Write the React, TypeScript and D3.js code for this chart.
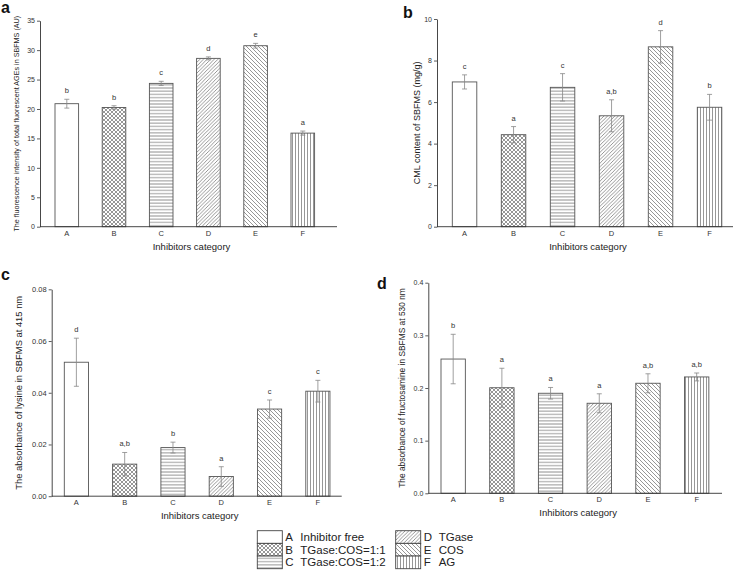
import * as React from 'react'
import { useEffect, useRef } from 'react'
import * as d3 from 'd3'

const categories = ['A', 'B', 'C', 'D', 'E', 'F']
const legendNames = ['Inhibitor free', 'TGase:COS=1:1', 'TGase:COS=1:2', 'TGase', 'COS', 'AG']

// a: fluorescent AGEs
const agesValues = [20.9, 20.25, 24.35, 28.6, 30.75, 15.9]
const agesErrors = [0.75, 0.3, 0.35, 0.25, 0.4, 0.35]
const agesLetters = ['b', 'b', 'c', 'd', 'e', 'a']
const agesTicks = [0, 5, 10, 15, 20, 25, 30, 35]

// b: CML content
const cmlValues = [6.97, 4.43, 6.71, 5.34, 8.66, 5.75]
const cmlErrors = [0.34, 0.39, 0.66, 0.77, 0.78, 0.62]
const cmlLetters = ['c', 'a', 'c', 'a,b', 'd', 'b']
const cmlTicks = [0, 2, 4, 6, 8, 10]

// c: lysine absorbance
const lysineValues = [0.0518, 0.0124, 0.0188, 0.0076, 0.0337, 0.0406]
const lysineErrors = [0.0093, 0.0045, 0.0021, 0.0038, 0.0035, 0.0042]
const lysineLetters = ['d', 'a,b', 'b', 'a', 'c', 'c']
const lysineTicks = [0, 0.02, 0.04, 0.06, 0.08]

// d: fructosamine absorbance
const fructValues = [0.255, 0.2005, 0.19, 0.171, 0.209, 0.221]
const fructErrors = [0.047, 0.037, 0.011, 0.018, 0.018, 0.0075]
const fructLetters = ['b', 'a', 'a', 'a', 'a,b', 'a,b']
const fructTicks = [0, 0.1, 0.2, 0.3, 0.4]

const FONT = '"Liberation Sans", Arial, sans-serif'
const HATCH = '#6a6a6a'

interface Panel {
  tag: string
  tagX: number
  tagY: number
  values: number[]
  errors: number[]
  letters: string[]
  ticks: number[]
  fmt: string
  axisX: number
  axisEnd: number
  yTop: number
  yBottom: number
  barStart: number
  step: number
  yLabel: string
  yLabelX: number
  yLabelSize: number
  tickSize: number
}

const panels: Panel[] = [
  {
    tag: 'a', tagX: 1, tagY: 13,
    values: agesValues, errors: agesErrors, letters: agesLetters, ticks: agesTicks, fmt: 'd',
    axisX: 40, axisEnd: 337, yTop: 20.7, yBottom: 226.7, barStart: 55, step: 47.2,
    yLabel: 'The fluorescence intensity of total fluorescent AGEs in SBFMS (AU)', yLabelX: 19, yLabelSize: 7.2,
    tickSize: 7,
  },
  {
    tag: 'b', tagX: 403, tagY: 18,
    values: cmlValues, errors: cmlErrors, letters: cmlLetters, ticks: cmlTicks, fmt: 'd',
    axisX: 437, axisEnd: 733, yTop: 19, yBottom: 226.7, barStart: 452.3, step: 49,
    yLabel: 'CML content of SBFMS (mg/g)', yLabelX: 420, yLabelSize: 9,
    tickSize: 7,
  },
  {
    tag: 'c', tagX: 1, tagY: 280,
    values: lysineValues, errors: lysineErrors, letters: lysineLetters, ticks: lysineTicks, fmt: '.2f',
    axisX: 51.7, axisEnd: 341.7, yTop: 289.3, yBottom: 496.2, barStart: 64.3, step: 48.3,
    yLabel: 'The absorbance of lysine in SBFMS at 415 nm', yLabelX: 22, yLabelSize: 9.4,
    tickSize: 7.5,
  },
  {
    tag: 'd', tagX: 377, tagY: 289,
    values: fructValues, errors: fructErrors, letters: fructLetters, ticks: fructTicks, fmt: '.1f',
    axisX: 428.3, axisEnd: 722, yTop: 282.7, yBottom: 493.3, barStart: 441, step: 48.7,
    yLabel: 'The absorbance of fructosamine in SBFMS at 530 nm', yLabelX: 405, yLabelSize: 8.4,
    tickSize: 7,
  },
]

function addPatterns(defs: d3.Selection<SVGDefsElement, unknown, null, undefined>) {
  const mk = (id: string, size: number) =>
    defs.append('pattern')
      .attr('id', id)
      .attr('patternUnits', 'userSpaceOnUse')
      .attr('width', size)
      .attr('height', size)

  const line = (p: any, x1: number, y1: number, x2: number, y2: number) =>
    p.append('line')
      .attr('x1', x1).attr('y1', y1).attr('x2', x2).attr('y2', y2)
      .attr('stroke', HATCH).attr('stroke-width', 0.7)

  // B crosshatch
  const b = mk('pat-B', 4)
  b.append('rect').attr('width', 4).attr('height', 4).attr('fill', '#fff')
  line(b, 0, 0, 4, 4)
  line(b, 0, 4, 4, 0)
  // C horizontal
  const c = mk('pat-C', 3.2)
  c.append('rect').attr('width', 3.2).attr('height', 3.2).attr('fill', '#fff')
  line(c, 0, 1.6, 3.2, 1.6)
  // D forward diagonal
  const d = mk('pat-D', 3.6)
  d.append('rect').attr('width', 3.6).attr('height', 3.6).attr('fill', '#fff')
  line(d, -0.9, 0.9, 0.9, -0.9)
  line(d, 0, 3.6, 3.6, 0)
  line(d, 2.7, 4.5, 4.5, 2.7)
  // E back diagonal
  const e = mk('pat-E', 4)
  e.append('rect').attr('width', 4).attr('height', 4).attr('fill', '#fff')
  line(e, -1, 3, 1, 5)
  line(e, 0, 0, 4, 4)
  line(e, 3, -1, 5, 1)
  // F vertical
  const f = mk('pat-F', 3)
  f.append('rect').attr('width', 3).attr('height', 3).attr('fill', '#fff')
  line(f, 1.5, 0, 1.5, 3)
}

const fillFor = (c: string) => (c === 'A' ? '#fff' : `url(#pat-${c})`)

function drawPanel(svg: d3.Selection<SVGSVGElement, unknown, null, undefined>, p: Panel) {
  const g = svg.append('g')
  const y = d3.scaleLinear()
    .domain([p.ticks[0], p.ticks[p.ticks.length - 1]])
    .range([p.yBottom, p.yTop])
  const x = d3.scaleBand<string>()
    .domain(categories)
    .range([p.barStart, p.barStart + p.step * 5.5])
    .paddingInner(0.5)
    .paddingOuter(0)
  const bw = x.bandwidth()

  // bars
  g.selectAll('.bar')
    .data(categories)
    .enter()
    .append('rect')
    .attr('x', (d) => x(d) as number)
    .attr('y', (d, i) => y(p.values[i]))
    .attr('width', bw)
    .attr('height', (d, i) => p.yBottom - y(p.values[i]))
    .attr('fill', (d) => fillFor(d))
    .attr('stroke', '#555')
    .attr('stroke-width', 0.9)

  // error bars
  const eb = g.selectAll('.err')
    .data(categories)
    .enter()
    .append('g')
  eb.append('line')
    .attr('x1', (d) => (x(d) as number) + bw / 2)
    .attr('x2', (d) => (x(d) as number) + bw / 2)
    .attr('y1', (d, i) => y(p.values[i] + p.errors[i]))
    .attr('y2', (d, i) => y(p.values[i] - p.errors[i]))
    .attr('stroke', '#888')
    .attr('stroke-width', 0.8)
  ;[1, -1].forEach((s) => {
    eb.append('line')
      .attr('x1', (d) => (x(d) as number) + bw / 2 - 2.5)
      .attr('x2', (d) => (x(d) as number) + bw / 2 + 2.5)
      .attr('y1', (d, i) => y(p.values[i] + s * p.errors[i]))
      .attr('y2', (d, i) => y(p.values[i] + s * p.errors[i]))
      .attr('stroke', '#888')
      .attr('stroke-width', 0.8)
  })

  // significance letters
  g.selectAll('.sig')
    .data(categories)
    .enter()
    .append('text')
    .attr('x', (d) => (x(d) as number) + bw / 2)
    .attr('y', (d, i) => y(p.values[i] + p.errors[i]) - 6)
    .attr('text-anchor', 'middle')
    .attr('font-family', FONT)
    .attr('font-size', 7.5)
    .attr('fill', '#333')
    .text((d, i) => p.letters[i])

  // y axis
  const yAxis = g.append('g')
    .attr('transform', `translate(${p.axisX},0)`)
    .call(
      d3.axisLeft(y)
        .tickValues(p.ticks)
        .tickSize(3)
        .tickSizeOuter(0)
        .tickPadding(2)
        .tickFormat(d3.format(p.fmt) as any)
    )
  yAxis.select('.domain').attr('stroke', '#333').attr('stroke-width', 0.9)
  yAxis.selectAll('.tick line').attr('stroke', '#333').attr('stroke-width', 0.8)
  yAxis.selectAll('.tick text')
    .attr('font-family', FONT)
    .attr('font-size', p.tickSize)
    .attr('fill', '#333')

  // x axis
  g.append('line')
    .attr('x1', p.axisX).attr('x2', p.axisEnd)
    .attr('y1', p.yBottom).attr('y2', p.yBottom)
    .attr('stroke', '#333').attr('stroke-width', 0.9)
  g.selectAll('.xl')
    .data(categories)
    .enter()
    .append('text')
    .attr('x', (d) => (x(d) as number) + bw / 2)
    .attr('y', p.yBottom + 9)
    .attr('text-anchor', 'middle')
    .attr('font-family', FONT)
    .attr('font-size', 7.5)
    .attr('fill', '#333')
    .text((d) => d)

  g.append('text')
    .attr('x', (p.axisX + p.axisEnd) / 2 + 3)
    .attr('y', p.yBottom + 23)
    .attr('text-anchor', 'middle')
    .attr('font-family', FONT)
    .attr('font-size', 9.5)
    .attr('fill', '#222')
    .text('Inhibitors category')

  g.append('text')
    .attr('transform', `translate(${p.yLabelX},${(p.yTop + p.yBottom) / 2}) rotate(-90)`)
    .attr('text-anchor', 'middle')
    .attr('font-family', FONT)
    .attr('font-size', p.yLabelSize)
    .attr('fill', '#222')
    .text(p.yLabel)

  g.append('text')
    .attr('x', p.tagX)
    .attr('y', p.tagY)
    .attr('font-family', FONT)
    .attr('font-size', 16)
    .attr('font-weight', 'bold')
    .attr('fill', '#111')
    .text(p.tag)
}

function drawLegend(svg: d3.Selection<SVGSVGElement, unknown, null, undefined>) {
  const g = svg.append('g')
  const rows = d3.scaleBand<number>().domain([0, 1, 2]).range([530.7, 568.7])
  const cols = [257.3, 395.7]
  categories.forEach((c, i) => {
    const col = Math.floor(i / 3)
    const row = i % 3
    const sx = cols[col]
    const sy = rows(row) as number
    g.append('rect')
      .attr('x', sx).attr('y', sy)
      .attr('width', 25).attr('height', rows.bandwidth())
      .attr('fill', fillFor(c))
      .attr('stroke', '#444').attr('stroke-width', 0.9)
    g.append('text')
      .attr('x', sx + 28).attr('y', sy + rows.bandwidth() / 2 + 4)
      .attr('font-family', FONT).attr('font-size', 11.5)
      .attr('fill', '#222')
      .text(c)
    g.append('text')
      .attr('x', sx + 43).attr('y', sy + rows.bandwidth() / 2 + 4)
      .attr('font-family', FONT).attr('font-size', 11.5)
      .attr('fill', '#222')
      .text(legendNames[i])
  })
}

const App = () => {
  const ref = useRef<SVGSVGElement | null>(null)

  useEffect(() => {
    const svg = d3.select(ref.current as SVGSVGElement)
    svg.selectAll('*').remove()
    addPatterns(svg.append('defs'))
    panels.forEach((p) => drawPanel(svg, p))
    drawLegend(svg)
  }, [])

  return (
    <svg
      ref={ref}
      width={735}
      height={577}
      style={{ position: 'absolute', left: 0, top: 0, background: '#fff' }}
    />
  )
}

export default App
